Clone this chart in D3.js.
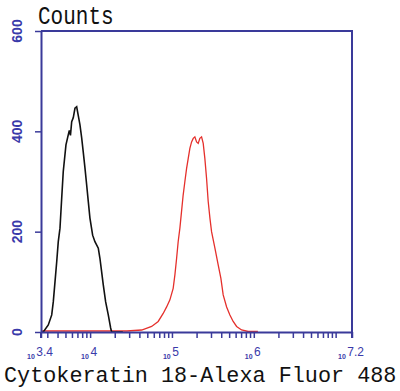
<!DOCTYPE html>
<html>
<head>
<meta charset="utf-8">
<script src="https://cdn.jsdelivr.net/npm/d3@7"></script>
<style>
  html, body { margin: 0; padding: 0; background: #fff; }
  svg { display: block; }
</style>
</head>
<body>
<svg id="chart" width="400" height="391"></svg>
<script>
// ---- data (x as log10 of fluorescence, y as counts) ----
const blackExp = [3.40, 3.428, 3.489, 3.531, 3.550, 3.571, 3.592, 3.611, 3.632, 3.653, 3.672, 3.705, 3.733, 3.746, 3.760, 3.775, 3.794, 3.815, 3.836, 3.855, 3.876, 3.897, 3.916, 3.937, 3.958, 3.978, 3.998, 4.031, 4.059, 4.100, 4.120, 4.141, 4.161, 4.190, 4.222, 4.251, 4.263, 4.40];
const blackCounts = [0, 0, 14, 34, 60, 100, 140, 180, 207, 267, 320, 373, 393, 402, 392, 419, 427, 446, 449, 432, 413, 387, 359, 327, 293, 260, 227, 193, 180, 167, 147, 120, 94, 60, 34, 8, 0, 0];

const redExp = [3.40, 3.60, 3.90, 4.20, 4.45, 4.630, 4.752, 4.832, 4.893, 4.935, 4.975, 5.015, 5.036, 5.057, 5.076, 5.097, 5.117, 5.137, 5.158, 5.179, 5.199, 5.219, 5.240, 5.260, 5.280, 5.301, 5.321, 5.341, 5.362, 5.382, 5.402, 5.423, 5.443, 5.464, 5.484, 5.525, 5.565, 5.598, 5.626, 5.668, 5.708, 5.748, 5.790, 5.851, 5.931, 6.05];
const redCounts = [2, 2, 2, 2, 2, 4, 11, 21, 37, 50, 64, 87, 114, 147, 180, 207, 240, 273, 300, 326, 346, 366, 379, 386, 389, 379, 376, 386, 389, 376, 346, 306, 260, 227, 200, 167, 134, 107, 74, 50, 34, 21, 11, 4, 1, 1];

const xLabelExps = ["3.4", "4", "5", "6", "7.2"];
const yTicks = [0, 200, 400, 600];
const xTitle = "Cytokeratin 18-Alexa Fluor 488";
const yTitle = "Counts";

// ---- layout ----
(function () {
const axisColor = "#3a3a9a";
const labelColor = "#3a3aaa";
const svg = d3.select("#chart");
const pLeft = 41, pRight = 352, pTop = 31, pBottom = 332;

const x = d3.scaleLog().domain([Math.pow(10, 3.4), Math.pow(10, 7.2)]).range([pLeft, pRight]);
const y = d3.scaleLinear().domain([0, 600]).range([pBottom, pTop]);

// minor/major ticks on x
const xTickVals = [];
for (let k = 3; k <= 7; k++) {
  for (let m = 1; m <= 9; m++) {
    const v = m * Math.pow(10, k);
    if (v >= x.domain()[0] && v <= x.domain()[1]) xTickVals.push(v);
  }
}
xTickVals.push(x.domain()[0], x.domain()[1]);

// curves
const line = d3.line().x(d => x(d[0])).y(d => y(d[1]));
const redData = redExp.map((e, i) => [Math.pow(10, e), redCounts[i]]);
const blackData = blackExp.map((e, i) => [Math.pow(10, e), blackCounts[i]]);

svg.append("path").datum(redData).attr("d", line)
  .attr("fill", "none").attr("stroke", "#e5302c").attr("stroke-width", 1.3);
svg.append("path").datum(blackData).attr("d", line)
  .attr("fill", "none").attr("stroke", "#111").attr("stroke-width", 1.6);

// x axis
const xAxis = svg.append("g").attr("transform", `translate(0,${pBottom})`)
  .call(d3.axisBottom(x).tickValues(xTickVals).tickFormat("").tickSize(6).tickSizeOuter(0));
xAxis.select(".domain").attr("stroke", axisColor).attr("stroke-width", 2);
xAxis.selectAll(".tick line").attr("stroke", axisColor).attr("stroke-width", 1.5);

// y axis
const yAxis = svg.append("g").attr("transform", `translate(${pLeft},0)`)
  .call(d3.axisLeft(y).tickValues(yTicks).tickFormat("").tickSize(6).tickSizeOuter(0));
yAxis.select(".domain").attr("stroke", axisColor).attr("stroke-width", 2);
yAxis.selectAll(".tick line").attr("stroke", axisColor).attr("stroke-width", 1.5);

// frame top & right, extensions below axis
svg.append("line").attr("x1", pLeft).attr("x2", pRight).attr("y1", pTop).attr("y2", pTop)
  .attr("stroke", axisColor).attr("stroke-width", 2);
svg.append("line").attr("x1", pRight).attr("x2", pRight).attr("y1", pTop - 1).attr("y2", pBottom + 6)
  .attr("stroke", axisColor).attr("stroke-width", 2);
svg.append("line").attr("x1", pLeft).attr("x2", pLeft).attr("y1", pBottom).attr("y2", pBottom + 6)
  .attr("stroke", axisColor).attr("stroke-width", 2);

// y tick labels (rotated)
svg.selectAll("text.ylab").data(yTicks).enter().append("text")
  .attr("class", "ylab")
  .attr("transform", d => `translate(22,${y(d)}) rotate(-90)`)
  .attr("text-anchor", "middle")
  .attr("font-family", "Liberation Sans, Arial, sans-serif")
  .attr("font-size", 14)
  .attr("font-weight", "bold")
  .attr("fill", labelColor)
  .text(d => d);

// x tick labels: small "10" + raised exponent, as two texts
const groups = svg.selectAll("g.xlab").data(xLabelExps).enter().append("g")
  .attr("class", "xlab");
groups.each(function (d) {
  const g = d3.select(this);
  const base = g.append("text")
    .attr("y", 359)
    .attr("font-family", "Liberation Sans, Arial, sans-serif")
    .attr("font-size", 7)
    .attr("font-weight", "bold")
    .attr("fill", labelColor)
    .text("10");
  const ex = g.append("text")
    .attr("y", 356)
    .attr("font-family", "Liberation Sans, Arial, sans-serif")
    .attr("font-size", 12)
    .attr("fill", labelColor)
    .text(d);
  const bw = base.node().getComputedTextLength();
  const ew = ex.node().getComputedTextLength();
  const gap = 1.5;
  const cx = x(Math.pow(10, +d)) - 1;
  const start = cx - (bw + gap + ew) / 2;
  base.attr("x", start);
  ex.attr("x", start + bw + gap);
});

// titles
svg.append("text")
  .attr("transform", "translate(38,24) scale(1,1.2)")
  .attr("font-family", "Liberation Mono, DejaVu Sans Mono, monospace")
  .attr("font-size", 21)
  .attr("fill", "#111")
  .text(yTitle);

svg.append("text")
  .attr("x", 4)
  .attr("y", 382)
  .attr("font-family", "Liberation Mono, DejaVu Sans Mono, monospace")
  .attr("font-size", 21.8)
  .attr("fill", "#111")
  .text(xTitle);
})();
</script>
</body>
</html>
